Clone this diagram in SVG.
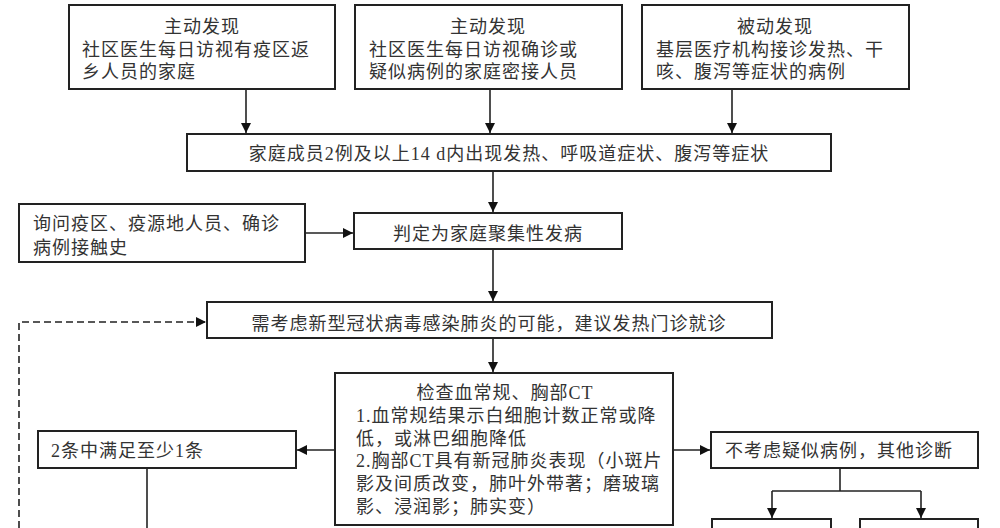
<svg xmlns="http://www.w3.org/2000/svg" width="1000" height="528" viewBox="0 0 1000 528">
<style>
.box{fill:#fff;stroke:#222;stroke-width:2}
.t{font-family:"Liberation Serif","Noto Sans CJK SC",serif;font-size:18px;letter-spacing:1px;fill:#333}
.c{text-anchor:middle}
.ln{fill:none;stroke:#222;stroke-width:1.6}
.dash{fill:none;stroke:#222;stroke-width:1.6;stroke-dasharray:7 4}
</style>
<defs>
<marker id="ah" markerUnits="userSpaceOnUse" markerWidth="12" markerHeight="12" refX="10" refY="5" orient="auto">
<path d="M0,0 L10,5 L0,10 Z" fill="#111"/>
</marker>
</defs>
<rect width="1000" height="528" fill="#fff"/>
<g id="connectors">
<line class="ln" x1="246" y1="89" x2="246" y2="133" marker-end="url(#ah)"/>
<line class="ln" x1="490" y1="89" x2="490" y2="133" marker-end="url(#ah)"/>
<line class="ln" x1="732" y1="89" x2="732" y2="133" marker-end="url(#ah)"/>
<line class="ln" x1="493" y1="171" x2="493" y2="212" marker-end="url(#ah)"/>
<line class="ln" x1="305" y1="233" x2="353" y2="233" marker-end="url(#ah)"/>
<line class="ln" x1="493" y1="249" x2="493" y2="301" marker-end="url(#ah)"/>
<polyline class="dash" points="19,528 19,322 206,322" marker-end="url(#ah)"/>
<line class="ln" x1="493" y1="338" x2="493" y2="372" marker-end="url(#ah)"/>
<line class="ln" x1="335" y1="450" x2="297" y2="450" marker-end="url(#ah)"/>
<line class="ln" x1="673" y1="450" x2="710" y2="450" marker-end="url(#ah)"/>
<line class="ln" x1="147" y1="468" x2="147" y2="528"/>
<line class="ln" x1="840" y1="468" x2="840" y2="491"/>
<line class="ln" x1="772" y1="491" x2="921" y2="491"/>
<line class="ln" x1="772" y1="491" x2="772" y2="518" marker-end="url(#ah)"/>
<line class="ln" x1="921" y1="491" x2="921" y2="518" marker-end="url(#ah)"/>
</g>
<g id="n1">
<rect class="box" x="69" y="5" width="266" height="84"/>
<text class="t c" x="202" y="33">主动发现</text>
<text class="t" x="82" y="56">社区医生每日访视有疫区返</text>
<text class="t" x="82" y="78">乡人员的家庭</text>
</g>
<g id="n2">
<rect class="box" x="355" y="5" width="267" height="84"/>
<text class="t c" x="488" y="33">主动发现</text>
<text class="t" x="369" y="56">社区医生每日访视确诊或</text>
<text class="t" x="369" y="78">疑似病例的家庭密接人员</text>
</g>
<g id="n3">
<rect class="box" x="642" y="5" width="267" height="84"/>
<text class="t c" x="775" y="33">被动发现</text>
<text class="t" x="656" y="56">基层医疗机构接诊发热、干</text>
<text class="t" x="656" y="78">咳、腹泻等症状的病例</text>
</g>
<g id="n4">
<rect class="box" x="187" y="134" width="644" height="37"/>
<text class="t c" x="509" y="160">家庭成员2例及以上14 d内出现发热、呼吸道症状、腹泻等症状</text>
</g>
<g id="n5">
<rect class="box" x="19" y="204" width="286" height="58"/>
<text class="t" x="33" y="230">询问疫区、疫源地人员、确诊</text>
<text class="t" x="33" y="254">病例接触史</text>
</g>
<g id="n6">
<rect class="box" x="354" y="213" width="268" height="36"/>
<text class="t c" x="488" y="240">判定为家庭聚集性发病</text>
</g>
<g id="n7">
<rect class="box" x="207" y="302" width="565" height="36"/>
<text class="t c" x="489" y="330">需考虑新型冠状病毒感染肺炎的可能，建议发热门诊就诊</text>
</g>
<g id="n8">
<rect class="box" x="335" y="373" width="338" height="152"/>
<text class="t c" x="505" y="399">检查血常规、胸部CT</text>
<text class="t" x="356" y="422">1.血常规结果示白细胞计数正常或降</text>
<text class="t" x="356" y="445">低，或淋巴细胞降低</text>
<text class="t" x="356" y="467">2.胸部CT具有新冠肺炎表现（小斑片</text>
<text class="t" x="356" y="490">影及间质改变，肺叶外带著；磨玻璃</text>
<text class="t" x="356" y="513">影、浸润影；肺实变）</text>
</g>
<g id="n9">
<rect class="box" x="38" y="431" width="258" height="37"/>
<text class="t" x="51" y="457">2条中满足至少1条</text>
</g>
<g id="n10">
<rect class="box" x="711" y="432" width="267" height="36"/>
<text class="t" x="725" y="457">不考虑疑似病例，其他诊断</text>
</g>
<g id="n11">
<rect class="box" x="712" y="519" width="119" height="20"/>
</g>
<g id="n12">
<rect class="box" x="860" y="519" width="118" height="20"/>
</g>
</svg>
